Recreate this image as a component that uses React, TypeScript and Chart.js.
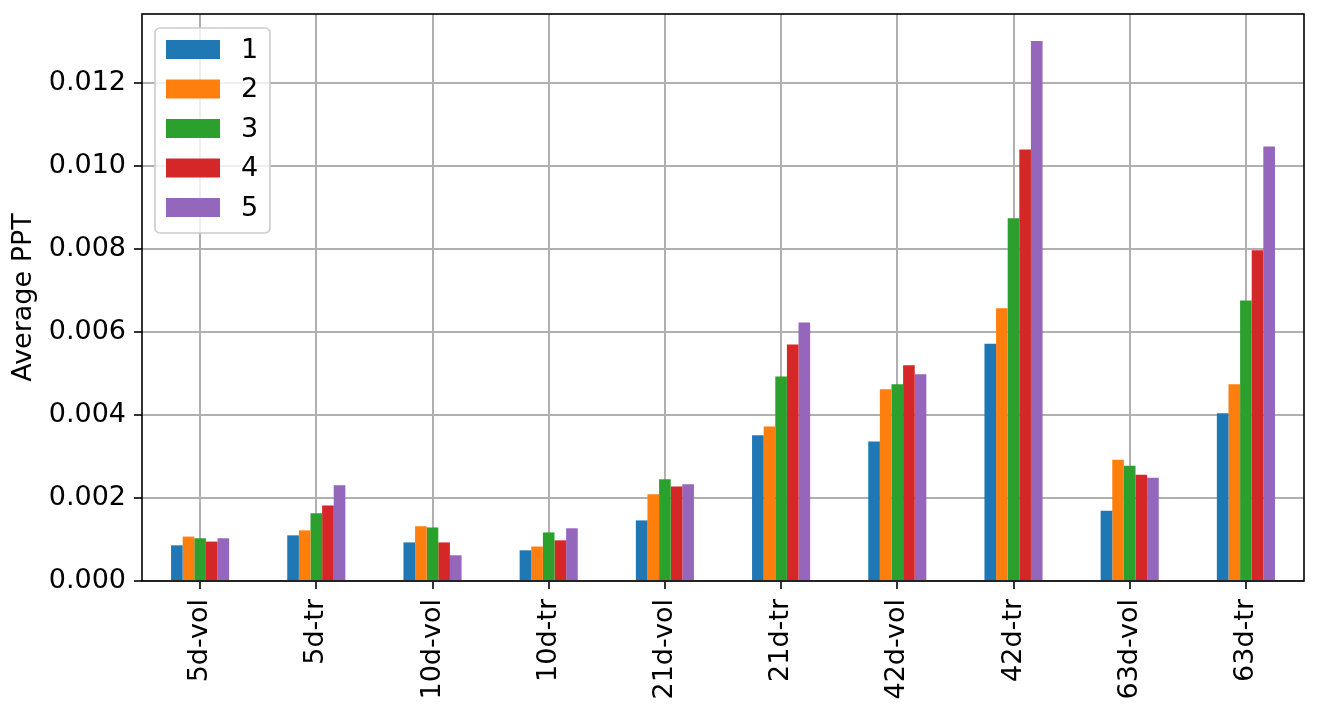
import React, { useEffect, useRef } from "react";
import { Chart, registerables } from "chart.js";

Chart.register(...registerables);

const categories = ["5d-vol", "5d-tr", "10d-vol", "10d-tr", "21d-vol", "21d-tr", "42d-vol", "42d-tr", "63d-vol", "63d-tr"];
const seriesLabels = ["1", "2", "3", "4", "5"];
const series1 = [0.00086, 0.0011, 0.00093, 0.00074, 0.00146, 0.00351, 0.00336, 0.00572, 0.00169, 0.00404];
const series2 = [0.00107, 0.00122, 0.00132, 0.00083, 0.00209, 0.00372, 0.00462, 0.00657, 0.00292, 0.00474];
const series3 = [0.00103, 0.00163, 0.00129, 0.00117, 0.00245, 0.00493, 0.00474, 0.00874, 0.00278, 0.00676];
const series4 = [0.00095, 0.00182, 0.00093, 0.00098, 0.00228, 0.0057, 0.0052, 0.0104, 0.00256, 0.00797];
const series5 = [0.00103, 0.00231, 0.00062, 0.00127, 0.00233, 0.00623, 0.00498, 0.01301, 0.00249, 0.01047];
const colors = ["#1f77b4", "#ff7f0e", "#2ca02c", "#d62728", "#9467bd"];
const yTicks = [0, 0.002, 0.004, 0.006, 0.008, 0.01, 0.012];
const yMax = 0.013663;

const FONT = "'DejaVu Sans', sans-serif";

const framePlugin = {
  id: "frame",
  afterDraw(chart: any) {
    const { ctx, chartArea } = chart;
    ctx.save();
    ctx.strokeStyle = "#000";
    ctx.lineWidth = 1.6;
    ctx.strokeRect(chartArea.left, chartArea.top, chartArea.right - chartArea.left, chartArea.bottom - chartArea.top);
    ctx.restore();
  },
};

const legendPlugin = {
  id: "innerLegend",
  afterDraw(chart: any) {
    const { ctx, chartArea } = chart;
    const x = chartArea.left + 13;
    const y = chartArea.top + 14;
    const w = 115;
    const h = 205;
    ctx.save();
    ctx.beginPath();
    ctx.roundRect(x, y, w, h, 5);
    ctx.fillStyle = "rgba(255,255,255,0.8)";
    ctx.fill();
    ctx.strokeStyle = "#cccccc";
    ctx.lineWidth = 1.6;
    ctx.stroke();
    chart.data.datasets.forEach((ds: any, i: number) => {
      const py = y + 12 + i * 39.5;
      ctx.fillStyle = ds.backgroundColor;
      ctx.fillRect(x + 11, py, 54, 19);
      ctx.fillStyle = "#000";
      ctx.font = `27px ${FONT}`;
      ctx.textAlign = "left";
      ctx.textBaseline = "middle";
      ctx.fillText(ds.label, x + 86, py + 10.5);
    });
    ctx.restore();
  },
};

export default function App() {
  const ref = useRef<HTMLCanvasElement>(null);
  useEffect(() => {
    if (!ref.current) return;
    const allSeries = [series1, series2, series3, series4, series5];
    const chart = new Chart(ref.current, {
      type: "bar",
      data: {
        labels: categories,
        datasets: allSeries.map((d, i) => ({
          label: seriesLabels[i],
          data: d,
          backgroundColor: colors[i],
          borderWidth: 0,
          categoryPercentage: 0.5,
          barPercentage: 1.0,
        })),
      },
      options: {
        animation: false,
        responsive: false,
        maintainAspectRatio: false,
        layout: { padding: { top: 14, right: 14, left: 0, bottom: 0 } },
        plugins: {
          legend: { display: false },
          tooltip: { enabled: false },
        },
        scales: {
          x: {
            z: 1,
            grid: {
              offset: false,
              color: "#b0b0b0",
              lineWidth: 2,
              tickColor: "#000",
              tickLength: 8,
              tickWidth: 1.6,
            },
            border: { display: false },
            ticks: {
              autoSkip: false,
              minRotation: 90,
              maxRotation: 90,
              padding: 10,
              color: "#000",
              font: { family: FONT, size: 27 },
            },
            afterFit(scale: any) {
              scale.height = 130;
              scale.paddingLeft = 0;
              scale.paddingRight = 0;
            },
          },
          y: {
            z: 1,
            min: 0,
            max: yMax,
            afterBuildTicks(scale: any) {
              scale.ticks = yTicks.map((v) => ({ value: v }));
            },
            grid: {
              color: "#b0b0b0",
              lineWidth: 2,
              tickColor: "#000",
              tickLength: 8,
              tickWidth: 1.6,
            },
            border: { display: false },
            ticks: {
              padding: 8,
              color: "#000",
              font: { family: FONT, size: 27 },
              callback: (v: any) => Number(v).toFixed(3),
            },
            title: {
              display: true,
              text: "Average PPT",
              color: "#000",
              font: { family: FONT, size: 27 },
              padding: { top: 8, bottom: 0 },
            },
            afterFit(scale: any) {
              scale.width = 142;
              scale.paddingTop = 0;
              scale.paddingBottom = 0;
            },
          },
        },
      },
      plugins: [framePlugin, legendPlugin],
    });
    return () => chart.destroy();
  }, []);
  return (
    <div style={{ position: "absolute", left: 0, top: 0, width: 1318, height: 711 }}>
      <canvas ref={ref} width={1318} height={711} style={{ display: "block" }} />
    </div>
  );
}
